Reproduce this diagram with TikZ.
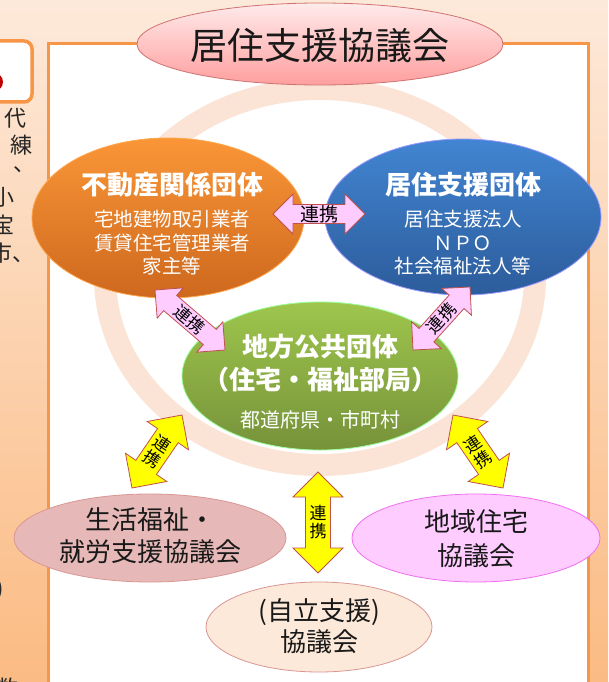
\documentclass[tikz,border=0pt]{standalone}
\usepackage{fontspec}
\setmainfont{Noto Sans CJK JP}
\usepackage{xcolor}
\usepackage{tikz}
\usetikzlibrary{shapes.geometric,calc}

\definecolor{bgtop}{HTML}{FDE9DA}
\definecolor{bgbot}{HTML}{FBBB83}
\definecolor{frame}{HTML}{F79646}
\definecolor{ringc}{HTML}{FBE4D5}
\definecolor{edgered}{HTML}{C0504D}
\definecolor{pinkfill}{HTML}{FFCCFF}
\definecolor{yel}{HTML}{FFFF00}

\newcommand{\renkei}[5]{%
  \draw[#3] (#1) -- ($(#1)!#4!(#2)!#4!90:(#2)$) -- ($(#1)!#4!(#2)!#5!90:(#2)$)
    -- ($(#2)!#4!(#1)!#5!-90:(#1)$) -- ($(#2)!#4!(#1)!#4!-90:(#1)$) -- (#2)
    -- ($(#2)!#4!(#1)!#4!90:(#1)$) -- ($(#2)!#4!(#1)!#5!90:(#1)$)
    -- ($(#1)!#4!(#2)!#5!-90:(#2)$) -- ($(#1)!#4!(#2)!#4!-90:(#2)$) -- cycle;}

\begin{document}
\begin{tikzpicture}[x=1pt, y=-1pt,
    every node/.style={inner sep=0pt},
    kai/.style={ellipse, draw, line width=0.8pt},
    hdr/.style={text=white, font=\fontsize{26}{30}\selectfont\bfseries},
    sub/.style={text=white, align=center, font=\fontsize{19.5}{23.5}\selectfont},
    big/.style={text=black!90, align=center, font=\fontsize{26}{32}\selectfont},
    lbl/.style={align=center, font=\fontsize{17}{18}\selectfont},
    frag/.style={text=black!85, font=\fontsize{22}{22}\selectfont},
    pinkarr/.style={fill=pinkfill, draw=edgered, line width=0.8pt},
    yelarr/.style={fill=yel, draw=edgered, line width=0.8pt}]
  \useasboundingbox (0,0) rectangle (608,682);
  \clip (0,0) rectangle (608,682);
  % background and frames
  \shade[top color=bgtop, bottom color=bgbot] (0,0) rectangle (608,682);
  \draw[frame, line width=3.5pt, fill=white, rounded corners=8pt] (-30,41) rectangle (32,102);
  \fill[red!75!black] (-6,82) circle (9);
  \draw[frame, line width=3.5pt, fill=white] (48.5,43.5) rectangle (588.5,700);
  % cut-off text of the next panel
  \node[frag] (f1) at (16,118) {代};
  \node[frag] (f2) at (21,145) {練};
  \node[frag] (f3) at (24,170) {、};
  \node[frag] (f4) at (4,197) {小};
  \node[frag] (f5) at (4,225) {宝};
  \node[frag, anchor=west] (f6) at (-10,253) {市、};
  \node[frag, anchor=east] (f7) at (4,590) {)};
  \node[frag] (f8) at (7,688) {数};
  % ring
  \draw[ringc, line width=22pt] (320,277) ellipse [x radius=215, y radius=188];
  % title
  \node[kai, draw=edgered!80, top color=red!8, bottom color=red!38!white,
        minimum width=366pt, minimum height=82pt] (title) at (320,44) {};
  \node[text=black!90, font=\fontsize{37}{40}\selectfont] (title-t) at (320,46) {居住支援協議会};
  % groups
  \node[kai, draw=orange!70!white, top color={rgb,255:red,250;green,150;blue,55},
        bottom color={rgb,255:red,205;green,104;blue,30},
        minimum width=272pt, minimum height=160pt] (fudo) at (168,218) {};
  \node[hdr] (fudo-h) at (172,185) {不動産関係団体};
  \node[sub] (fudo-s) at (172,243) {宅地建物取引業者\\賃貸住宅管理業者\\家主等};
  \node[kai, draw=blue!40!white, top color={rgb,255:red,66;green,133;blue,210},
        bottom color={rgb,255:red,44;green,92;blue,155},
        minimum width=276pt, minimum height=156pt] (kyoju) at (463,217) {};
  \node[hdr] (kyoju-h) at (463,185) {居住支援団体};
  \node[sub] (kyoju-s) at (463,243) {居住支援法人\\ＮＰＯ\\社会福祉法人等};
  \node[kai, draw=green!40!white, top color={rgb,255:red,158;green,198;blue,76},
        bottom color={rgb,255:red,118;green,146;blue,58},
        minimum width=276pt, minimum height=148pt] (chiho) at (320,376) {};
  \node[hdr, align=center, font=\fontsize{26}{33}\selectfont\bfseries] (chiho-h) at (320,363) {地方公共団体\\（住宅・福祉部局）};
  \node[sub, font=\fontsize{20}{24}\selectfont] (chiho-s) at (320,420) {都道府県・市町村};
  % councils
  \node[kai, draw={rgb,255:red,217;green,150;blue,148}, fill={rgb,255:red,230;green,185;blue,184},
        minimum width=272pt, minimum height=88pt] (seikatsu) at (150,538) {};
  \node[big] (seikatsu-t) at (150,536) {生活福祉・\\就労支援協議会};
  \node[kai, draw={rgb,255:red,240;green,110;blue,240}, fill=pinkfill,
        minimum width=248pt, minimum height=88pt] (chiiki) at (476,538) {};
  \node[big, font=\fontsize{26}{34}\selectfont] (chiiki-t) at (476,539) {地域住宅\\協議会};
  \node[kai, draw={rgb,255:red,217;green,150;blue,148}, fill={rgb,255:red,253;green,233;blue,217},
        minimum width=226pt, minimum height=90pt] (jiritsu) at (319,627) {};
  \node[big, font=\fontsize{26}{31}\selectfont] (jiritsu-t) at (319,626) {(自立支援)\\協議会};
  % links
  \coordinate (a1) at (273,214); \coordinate (b1) at (365,214);
  \coordinate (a2) at (155,290); \coordinate (b2) at (225,350);
  \coordinate (a3) at (413,350); \coordinate (b3) at (470,287);
  \coordinate (a4) at (132,488); \coordinate (b4) at (182,415);
  \coordinate (a5) at (453,415); \coordinate (b5) at (503,488);
  \coordinate (a6) at (318,472); \coordinate (b6) at (318,573);
  \renkei{a1}{b1}{pinkarr}{20pt}{9.5pt}
  \renkei{a2}{b2}{pinkarr}{20pt}{10pt}
  \renkei{a3}{b3}{pinkarr}{20pt}{10pt}
  \renkei{a4}{b4}{yelarr}{25pt}{12.5pt}
  \renkei{a5}{b5}{yelarr}{25pt}{12.5pt}
  \renkei{a6}{b6}{yelarr}{25pt}{12.5pt}
  \node[lbl, font=\fontsize{19}{20}\selectfont] (l1) at ($(a1)!0.5!(b1)$) {連携};
  \node[lbl, rotate=-40.6] (l2) at ($(a2)!0.5!(b2)$) {連携};
  \node[lbl, rotate=47.9] (l3) at ($(a3)!0.5!(b3)$) {連携};
  \node[lbl, rotate=-34.4] (l4) at ($(a4)!0.5!(b4)$) {連\\携};
  \node[lbl, rotate=34.4] (l5) at ($(a5)!0.5!(b5)$) {連\\携};
  \node[lbl] (l6) at ($(a6)!0.5!(b6)$) {連\\携};
\end{tikzpicture}
\end{document}
